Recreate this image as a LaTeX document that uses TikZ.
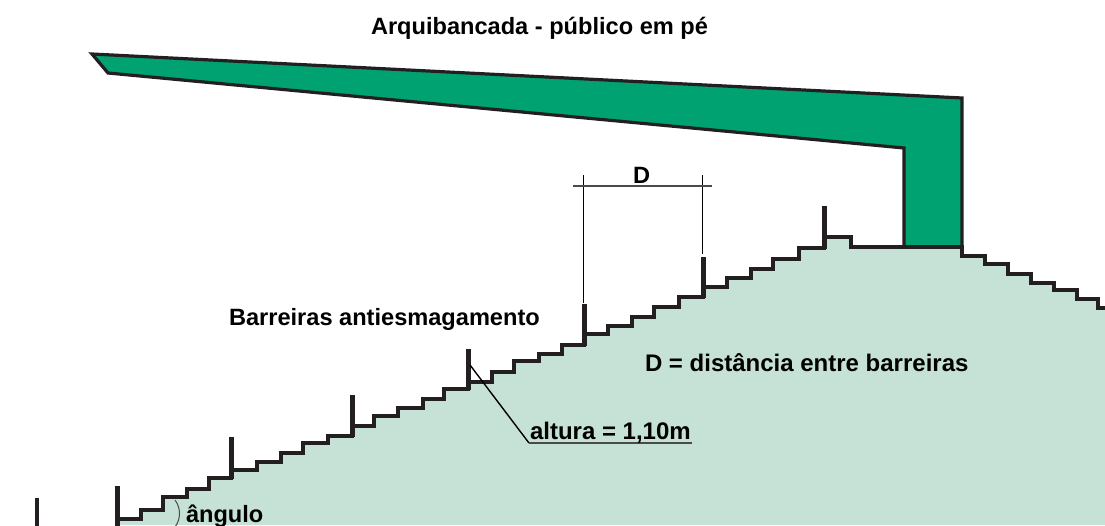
\documentclass[tikz,border=0pt]{standalone}
\usepackage{fontspec}
\setmainfont{Liberation Sans}
\definecolor{standgreen}{HTML}{00A272}
\definecolor{terrace}{HTML}{C6E2D7}
\definecolor{inkline}{HTML}{231F20}
\definecolor{dimgrey}{HTML}{4A4A4A}
\tikzset{
  steps/.style={draw=inkline,line width=3.2pt,line join=miter},
  barrier/.style={draw=inkline,line width=5pt,line cap=butt},
  thinbarrier/.style={draw=inkline,line width=3.6pt,line cap=butt},
  dimline/.style={draw=black,line width=0.9pt},
  dimbar/.style={draw=dimgrey,line width=1.6pt},
  label/.style={inner sep=0pt,outer sep=0pt,anchor=base west,font=\bfseries\fontsize{23.6}{26}\selectfont,text=black},
  labelwide/.style={label,font=\bfseries\fontsize{24}{26}\selectfont},
}
\begin{document}
\begin{tikzpicture}[x=1pt,y=-1pt]
\useasboundingbox (0,0) rectangle (1105,525);
\clip (0,0) rectangle (1105,525);
\def\stairs{(117,519) -- (141,519) -- (141,510) -- (163,510) -- (163,497) -- (187,497) -- (187,489) -- (209,489) -- (209,478) -- (231,478) -- (231,470) -- (257,470) -- (257,462) -- (281,462) -- (281,453) -- (303,453) -- (303,443) -- (328,443) -- (328,436) -- (352,436) -- (352,426) -- (374,426) -- (374,416) -- (398,416) -- (398,408) -- (423,408) -- (423,399) -- (444,399) -- (444,389) -- (468,389) -- (468,382) -- (492,382) -- (492,372) -- (514,372) -- (514,361) -- (539,361) -- (539,354) -- (562,354) -- (562,345) -- (584,345) -- (584,334) -- (608,334) -- (608,326) -- (632,326) -- (632,317) -- (654,317) -- (654,307) -- (679,307) -- (679,297) -- (703,297) -- (703,287) -- (727,287) -- (727,278) -- (751,278) -- (751,269) -- (773,269) -- (773,259) -- (799,259) -- (799,248) -- (824,248) -- (824,237) -- (851,237) -- (851,247) -- (962,247) -- (962,256) -- (985,256) -- (985,264) -- (1008,264) -- (1008,274) -- (1031,274) -- (1031,283) -- (1054,283) -- (1054,290) -- (1077,290) -- (1077,299) -- (1098,299) -- (1098,308) -- (1105,308)}
% terrace
\fill[terrace] \stairs -- (1105,525) -- (117,525) -- cycle;
% roof and column
\draw[draw=inkline,line width=3.2pt,fill=standgreen,line join=miter]
  (92,54) -- (108,73) -- (904,148) -- (904,247) -- (962,247) -- (962,98) -- cycle;
% steps
\draw[steps] \stairs;
% barriers
\coordinate (b0t) at (37,498); \coordinate (b0b) at (37,527);
\coordinate (b1t) at (117,486); \coordinate (b1b) at (117,527);
\coordinate (b2t) at (231,437); \coordinate (b2b) at (231,479);
\coordinate (b3t) at (352,395); \coordinate (b3b) at (352,437);
\coordinate (b4t) at (468,349); \coordinate (b4b) at (468,390);
\coordinate (b5t) at (584,304); \coordinate (b5b) at (584,346);
\coordinate (b6t) at (703,257); \coordinate (b6b) at (703,298);
\coordinate (b7t) at (824,206); \coordinate (b7b) at (824,249);
\draw[thinbarrier] (b0t) -- (b0b);
\draw[barrier] (b1t) -- (b1b);
\draw[barrier] (b2t) -- (b2b);
\draw[barrier] (b3t) -- (b3b);
\draw[barrier] (b4t) -- (b4b);
\draw[barrier] (b5t) -- (b5b);
\draw[barrier] (b6t) -- (b6b);
\draw[barrier] (b7t) -- (b7b);
% dimension D
\coordinate (dl) at (583,175); \coordinate (dlb) at (583,303);
\coordinate (dr) at (702,175); \coordinate (drb) at (702,254);
\coordinate (ha) at (573,186); \coordinate (hb) at (712,186);
\draw[dimline] (dl) -- (dlb);
\draw[dimline] (dr) -- (drb);
\draw[dimbar] (ha) -- (hb);
% leader
\coordinate (la) at (470,365); \coordinate (lb) at (529,443); \coordinate (lc) at (692,443);
\draw[draw=black,line width=1.4pt] (la) -- (lb);
\draw[dimbar] (lb) -- (lc);
% angle arc
\coordinate (aa) at (175,500); \coordinate (ab) at (175,527);
\draw[draw=dimgrey,line width=1pt] (aa) .. controls (181,508) and (181,519) .. (ab);
% labels
\node[label] (title) at (371,34) {Arquibancada - público em pé};
\node[label] (dname) at (633,183) {D};
\node[label] (barr) at (229,325) {Barreiras antiesmagamento};
\node[labelwide] (ddef) at (645,371) {D = distância entre barreiras};
\node[labelwide] (alt) at (530,439) {altura = 1,10m};
\node[label] (ang) at (186,522) {ângulo};
\end{tikzpicture}
\end{document}
